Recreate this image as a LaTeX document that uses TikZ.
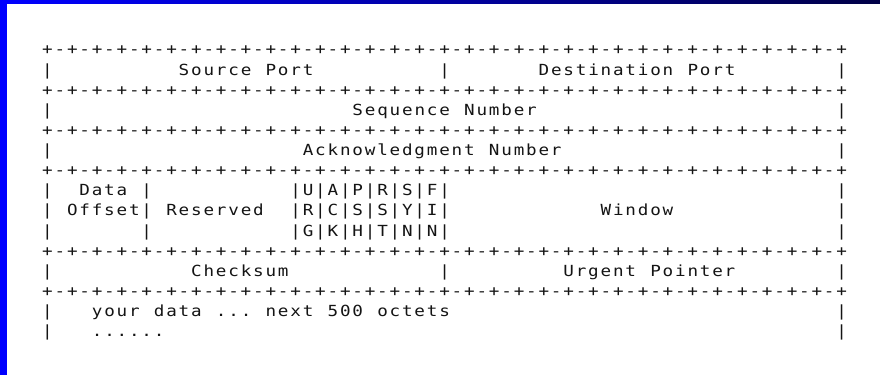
\documentclass[tikz,border=0pt]{standalone}
\usepackage{fontspec}
\newfontfamily\asciifont[FakeStretch=1.15]{DejaVu Sans Mono}
\newlength\cw
\setlength\cw{12.41pt}
\ExplSyntaxOn
\NewDocumentCommand\gridtext{m}{\str_map_inline:nn {#1}{\makebox[\cw][c]{##1}}}
\ExplSyntaxOff
\definecolor{navyend}{RGB}{0,0,70}
\definecolor{navymid}{RGB}{0,0,200}
\definecolor{inkgray}{RGB}{20,20,20}
\tikzset{
  seg/.style={anchor=base west, inner sep=0pt, outer sep=0pt,
    font=\asciifont\fontsize{15.3}{15.3}\selectfont, text=inkgray},
}
% name, column, line, text
\newcommand\seg[4]{\node[seg] (#1) at ({41.3+#2*12.41},{54.86+#3*20.14}) {\gridtext{#4}};}
\newcommand\ruleline[2]{\seg{#1}{0}{#2}{+-+-+-+-+-+-+-+-+-+-+-+-+-+-+-+-+-+-+-+-+-+-+-+-+-+-+-+-+-+-+-+-+}}
\begin{document}
\begin{tikzpicture}[x=1pt,y=-1pt]
\useasboundingbox (0,0) rectangle (880,375);
\fill[white] (0,0) rectangle (880,375);
\shade[left color=blue, middle color=navymid, right color=navyend] (0,0) rectangle (880,3.7);
\fill[blue] (0,0) rectangle (6.8,375);

\ruleline{r0}{0}
\seg{l1a}{0}{1}{|}
\seg{srcport}{11}{1}{Source Port}
\seg{l1b}{32}{1}{|}
\seg{dstport}{40}{1}{Destination Port}
\seg{l1c}{64}{1}{|}
\ruleline{r2}{2}
\seg{l3a}{0}{3}{|}
\seg{seqnum}{25}{3}{Sequence Number}
\seg{l3b}{64}{3}{|}
\ruleline{r4}{4}
\seg{l5a}{0}{5}{|}
\seg{acknum}{21}{5}{Acknowledgment Number}
\seg{l5b}{64}{5}{|}
\ruleline{r6}{6}
\seg{l7a}{0}{7}{|}
\seg{data}{3}{7}{Data}
\seg{l7b}{8}{7}{|}
\seg{flags1}{20}{7}{|U|A|P|R|S|F|}
\seg{l7c}{64}{7}{|}
\seg{l8a}{0}{8}{|}
\seg{offset}{2}{8}{Offset|}
\seg{reserved}{10}{8}{Reserved}
\seg{flags2}{20}{8}{|R|C|S|S|Y|I|}
\seg{window}{45}{8}{Window}
\seg{l8b}{64}{8}{|}
\seg{l9a}{0}{9}{|}
\seg{l9b}{8}{9}{|}
\seg{flags3}{20}{9}{|G|K|H|T|N|N|}
\seg{l9c}{64}{9}{|}
\ruleline{r10}{10}
\seg{l11a}{0}{11}{|}
\seg{checksum}{12}{11}{Checksum}
\seg{l11b}{32}{11}{|}
\seg{urgent}{42}{11}{Urgent Pointer}
\seg{l11c}{64}{11}{|}
\ruleline{r12}{12}
\seg{l13a}{0}{13}{|}
\seg{yourdata}{4}{13}{your data ... next 500 octets}
\seg{l13b}{64}{13}{|}
\seg{l14a}{0}{14}{|}
\seg{dots}{4}{14}{......}
\seg{l14b}{64}{14}{|}
\end{tikzpicture}
\end{document}
